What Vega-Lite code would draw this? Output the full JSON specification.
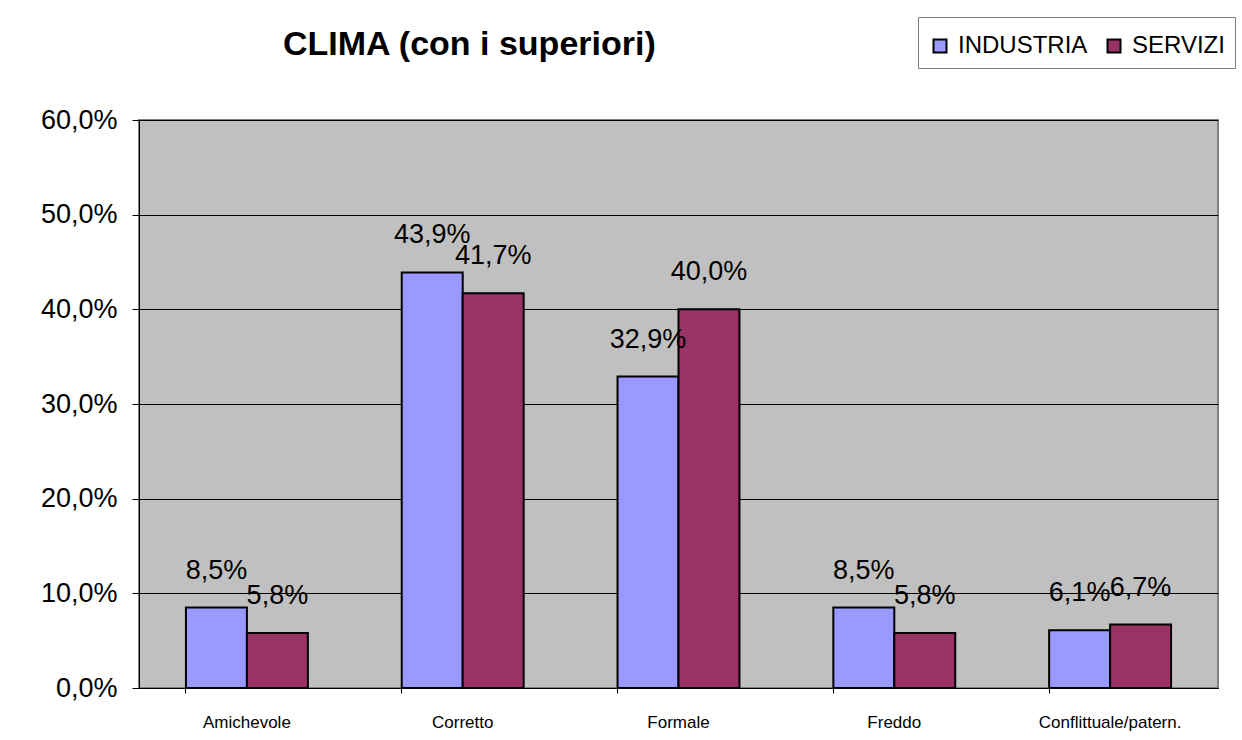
{
  "$schema": "https://vega.github.io/schema/vega-lite/v6.json",
  "width": 1079,
  "height": 568,
  "autosize": {"type": "none"},
  "padding": {"left": 139, "top": 120, "right": 24, "bottom": 52},
  "background": "white",
  "title": {
    "text": "CLIMA (con i superiori)",
    "anchor": "start",
    "frame": "group",
    "dx": 144,
    "offset": -72,
    "baseline": "alphabetic",
    "font": "Liberation Sans",
    "fontSize": 34,
    "fontWeight": "bold",
    "color": "black"
  },
  "data": {
    "values": [
      {"categoria": "Amichevole", "serie": "INDUSTRIA", "valore": 0.085},
      {"categoria": "Amichevole", "serie": "SERVIZI", "valore": 0.058},
      {"categoria": "Corretto", "serie": "INDUSTRIA", "valore": 0.439},
      {"categoria": "Corretto", "serie": "SERVIZI", "valore": 0.417},
      {"categoria": "Formale", "serie": "INDUSTRIA", "valore": 0.329},
      {"categoria": "Formale", "serie": "SERVIZI", "valore": 0.400},
      {"categoria": "Freddo", "serie": "INDUSTRIA", "valore": 0.085},
      {"categoria": "Freddo", "serie": "SERVIZI", "valore": 0.058},
      {"categoria": "Conflittuale/patern.", "serie": "INDUSTRIA", "valore": 0.061},
      {"categoria": "Conflittuale/patern.", "serie": "SERVIZI", "valore": 0.067}
    ]
  },
  "encoding": {
    "x": {
      "field": "categoria",
      "type": "nominal",
      "sort": null,
      "scale": {"paddingInner": 0.435, "paddingOuter": 0.2175},
      "axis": {
        "title": null,
        "labelAngle": 0,
        "labelFont": "Liberation Sans",
        "labelFontSize": 17,
        "labelColor": "black",
        "labelPadding": 21,
        "domainColor": "black",
        "domainWidth": 1,
        "ticks": true,
        "bandPosition": 0,
        "tickSize": 5,
        "tickColor": "black",
        "grid": false
      }
    },
    "xOffset": {"field": "serie", "type": "nominal", "sort": ["INDUSTRIA", "SERVIZI"]},
    "y": {
      "field": "valore",
      "type": "quantitative",
      "scale": {"domain": [0, 0.6], "nice": false},
      "axis": {
        "title": null,
        "values": [0, 0.1, 0.2, 0.3, 0.4, 0.5, 0.6],
        "format": ".1%",
        "labelFont": "Liberation Sans",
        "labelFontSize": 27,
        "labelColor": "black",
        "labelPadding": 15,
        "domainColor": "black",
        "domainWidth": 1,
        "tickSize": 7,
        "tickColor": "black",
        "grid": true,
        "gridColor": "black",
        "gridWidth": 1
      }
    }
  },
  "layer": [
    {
      "mark": {"type": "bar", "stroke": "black", "strokeWidth": 2},
      "encoding": {
        "color": {
          "field": "serie",
          "type": "nominal",
          "scale": {"domain": ["INDUSTRIA", "SERVIZI"], "range": ["#9999FF", "#993366"]},
          "legend": {
            "orient": "none",
            "legendX": 779,
            "legendY": -103,
            "direction": "horizontal",
            "title": " ",
            "titleOrient": "top",
            "titleFontSize": 7,
            "titlePadding": 0,
            "strokeColor": "#808080",
            "fillColor": "white",
            "padding": 10,
            "symbolType": "square",
            "symbolSize": 169,
            "symbolStrokeColor": "black",
            "symbolStrokeWidth": 2,
            "symbolOpacity": 1,
            "labelFont": "Liberation Sans",
            "labelFontSize": 24,
            "labelColor": "black",
            "labelOffset": 6,
            "columnPadding": 14
          }
        }
      }
    },
    {
      "mark": {
        "type": "text",
        "baseline": "alphabetic",
        "dy": -29,
        "font": "Liberation Sans",
        "fontSize": 27,
        "color": "black"
      },
      "encoding": {
        "text": {"field": "valore", "type": "quantitative", "format": ".1%"}
      }
    }
  ],
  "config": {
    "locale": {
      "number": {"decimal": ",", "thousands": ".", "grouping": [3], "currency": ["", " €"]}
    },
    "view": {"fill": "#C0C0C0", "stroke": "#808080", "strokeWidth": 2}
  }
}
